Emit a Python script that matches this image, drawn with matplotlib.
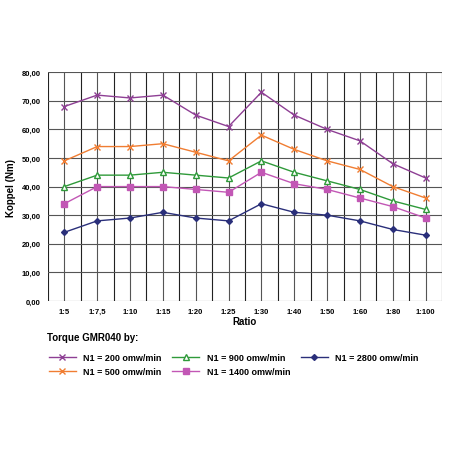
import matplotlib.pyplot as plt
import numpy as np

ratios = ["1:5", "1:7,5", "1:10", "1:15", "1:20", "1:25", "1:30", "1:40", "1:50", "1:60", "1:80", "1:100"]
n200 = [68, 72, 71, 72, 65, 61, 73, 65, 60, 56, 48, 43]
n500 = [49, 54, 54, 55, 52, 49, 58, 53, 49, 46, 40, 36]
n900 = [40, 44, 44, 45, 44, 43, 49, 45, 42, 39, 35, 32]
n1400 = [34, 40, 40, 40, 39, 38, 45, 41, 39, 36, 33, 29]
n2800 = [24, 28, 29, 31, 29, 28, 34, 31, 30, 28, 25, 23]

plt.rcParams["font.family"] = ["Liberation Sans", "DejaVu Sans"]
plt.rcParams["font.weight"] = "bold"
plt.rcParams["axes.labelweight"] = "bold"

fig = plt.figure(figsize=(4.52, 4.52), dpi=100)
ax = fig.add_axes([0.106, 0.332, 0.872, 0.506])
x = np.arange(len(ratios))

series = [
    (n200, "N1 = 200 omw/min", "#8e3f94", "x", 5, None),
    (n500, "N1 = 500 omw/min", "#f07d32", "x", 5, None),
    (n900, "N1 = 900 omw/min", "#2f9a3a", "^", 4, "white"),
    (n1400, "N1 = 1400 omw/min", "#c257b5", "s", 4, None),
    (n2800, "N1 = 2800 omw/min", "#2a2f7a", "D", 3, None),
]
for vals, lab, col, mk, ms, mfc in series:
    ax.plot(x, vals, color=col, marker=mk, markersize=ms, linewidth=1,
            markerfacecolor=mfc if mfc else col, label=lab)

ax.set_xlim(-0.5, len(ratios) - 0.5)
ax.set_ylim(0, 80)
ax.set_yticks(np.arange(0, 81, 10))
ax.set_yticklabels([f"{v},00" for v in range(0, 81, 10)], fontsize=5.5)
ax.set_xticks(x)
ax.set_xticklabels(ratios, fontsize=5.5)
ax.set_xticks(np.arange(-0.5, len(ratios), 1), minor=True)
ax.grid(True, which="major", color="#555555", linewidth=0.8)
ax.grid(True, which="minor", axis="x", color="#222222", linewidth=0.8)
ax.tick_params(length=0, which="both", pad=5)
for s in ax.spines.values():
    s.set_visible(False)
ax.set_xlabel("Ratio", fontsize=7, labelpad=1)
ax.set_ylabel("Koppel (Nm)", fontsize=7)

fig.text(0.105, 0.245, "Torque GMR040 by:", fontsize=7, fontweight="bold")
fig.legend(loc="upper left", bbox_to_anchor=(0.09, 0.235), ncol=3, frameon=False,
           fontsize=6.5, handlelength=3, columnspacing=1.2, labelspacing=0.6)

fig.savefig("out.png", dpi=100)
